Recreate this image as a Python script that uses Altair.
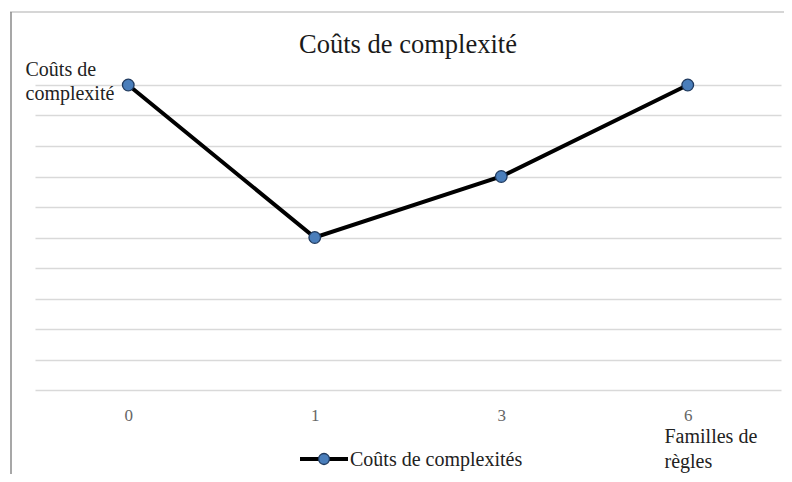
import altair as alt
import pandas as pd

categories = ["0", "1", "3", "6"]
values = [10, 5, 7, 10]
title_text = "Coûts de complexité"
y_title = ["Coûts de", "complexité"]
x_title = ["Familles de", "règles"]
legend_label = "Coûts de complexités"

SERIF = "Liberation Serif"

df = pd.DataFrame({"cat": categories, "val": values})

W, H = 746, 305

x_enc = alt.X(
    "cat:O", sort=None,
    scale=alt.Scale(type="point", padding=0.5),
    axis=alt.Axis(
        title=x_title, titleAngle=0, titleAlign="left", titleBaseline="alphabetic",
        titleX=629, titleY=52, titleFont=SERIF, titleFontSize=20,
        titleFontWeight="normal", titleColor="#222222", titleLineHeight=25,
        labelFont=SERIF, labelFontSize=17, labelColor="#666666", labelAngle=0,
        labelPadding=17, ticks=False, domain=False, grid=False,
    ),
)
y_enc = alt.Y(
    "val:Q",
    scale=alt.Scale(domain=[0, 10], nice=False),
    axis=alt.Axis(
        title=y_title, titleAngle=0, titleAlign="left", titleBaseline="alphabetic",
        titleX=-10, titleY=-10, titleFont=SERIF, titleFontSize=20,
        titleFontWeight="normal", titleColor="#222222", titleLineHeight=24,
        values=list(range(0, 11)), labels=False, ticks=False, domain=False,
        grid=True, gridColor="#d9d9d9", gridWidth=1.5,
    ),
)

line = alt.Chart(df).mark_line(color="black", strokeWidth=4).encode(x=x_enc, y=y_enc)
pts = alt.Chart(df).mark_point(
    filled=True, size=135, fill="#4a7ebb", stroke="#1f3a5f", strokeWidth=1.3, opacity=1
).encode(x=x_enc, y=y_enc)

title_df = pd.DataFrame({"t": [title_text]})
title = alt.Chart(title_df).mark_text(
    font=SERIF, fontSize=26.5, color="#1a1a1a", align="center", baseline="alphabetic"
).encode(x=alt.value(373), y=alt.value(-32), text="t:N")

leg_df = pd.DataFrame({"t": [legend_label]})
leg_line = alt.Chart(leg_df).mark_rule(color="black", strokeWidth=4).encode(
    x=alt.value(265), x2=alt.value(313), y=alt.value(374)
)
leg_pt = alt.Chart(leg_df).mark_point(
    filled=True, size=120, fill="#4a7ebb", stroke="#1f3a5f", strokeWidth=1.3, opacity=1
).encode(x=alt.value(289), y=alt.value(374))
leg_text = alt.Chart(leg_df).mark_text(
    font=SERIF, fontSize=20, color="#222222", align="left", baseline="alphabetic"
).encode(x=alt.value(315), y=alt.value(381), text="t:N")

border_top = alt.Chart(leg_df).mark_rule(color="#c8c8c8", strokeWidth=1.5).encode(
    x=alt.value(-25), x2=alt.value(760), y=alt.value(-73)
)
border_left = alt.Chart(leg_df).mark_rule(color="#8a8a8a", strokeWidth=1.5).encode(
    x=alt.value(-24), y=alt.value(-73), y2=alt.value(400)
)

chart = alt.layer(
    line, pts, title, leg_line, leg_pt, leg_text, border_top, border_left
).properties(
    width=W, height=H,
    background="white",
    autosize=alt.AutoSizeParams(type="none"),
    padding={"left": 27, "top": 77, "right": 3, "bottom": 84},
).configure_view(stroke="transparent", strokeWidth=0)

chart.save("out.html", embed_options={"renderer": "svg", "actions": False})
